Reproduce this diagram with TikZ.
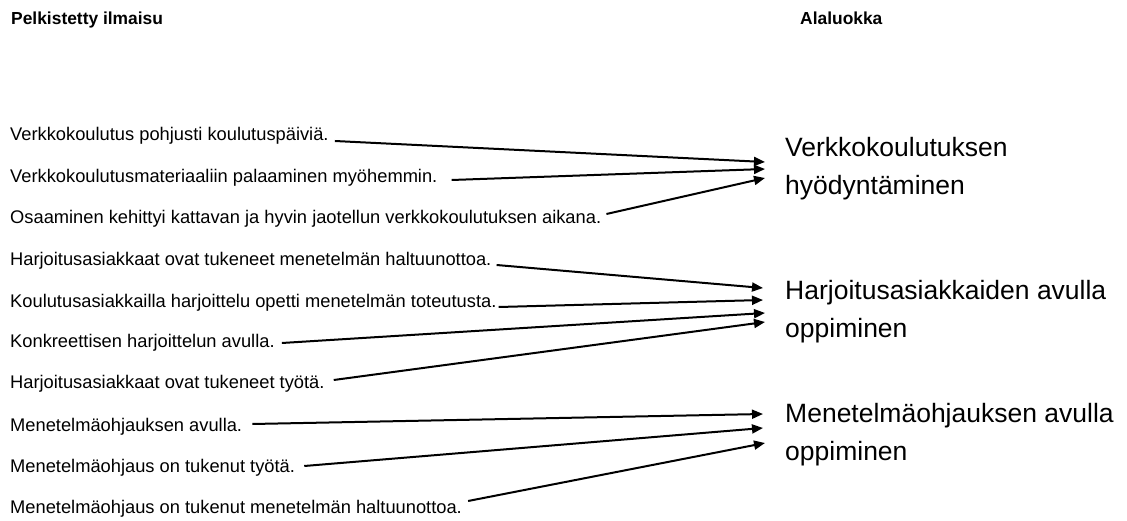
\documentclass[tikz,border=0pt]{standalone}
\usepackage{fontspec}
\setmainfont{Liberation Sans}
\usetikzlibrary{arrows.meta}

\tikzset{arrow/.style={-{Triangle[length=11pt,width=9pt]}, line width=2pt, draw=black},
  item/.style={anchor=base west, inner sep=0pt, text height=12.5pt, text depth=3.5pt, font=\fontsize{18.3}{21}\selectfont},
  head/.style={anchor=base west, inner sep=0pt, font=\fontsize{17.4}{20}\selectfont\bfseries},
  group/.style={anchor=west, inner sep=0pt, align=left, font=\fontsize{26.5}{38}\selectfont}}

\begin{document}
\begin{tikzpicture}[x=1pt, y=-1pt]
            \useasboundingbox (0,0) rectangle (1127,521);
            \node[head] (H1) at (11,25) {Pelkistetty ilmaisu};
            \node[head] (H2) at (800,25) {Alaluokka};
            \node[item] (L1) at (10,140.5) {Verkkokoulutus pohjusti koulutuspäiviä.};
            \node[item] (L2) at (10,182.5) {Verkkokoulutusmateriaaliin palaaminen myöhemmin.};
            \node[item] (L3) at (10,223.5) {Osaaminen kehittyi kattavan ja hyvin jaotellun verkkokoulutuksen aikana.};
            \node[item] (L4) at (10,265.5) {Harjoitusasiakkaat ovat tukeneet menetelmän haltuunottoa.};
            \node[item] (L5) at (10,307.5) {Koulutusasiakkailla harjoittelu opetti menetelmän toteutusta.};
            \node[item] (L6) at (10,347.5) {Konkreettisen harjoittelun avulla.};
            \node[item] (L7) at (10,388.5) {Harjoitusasiakkaat ovat tukeneet työtä.};
            \node[item] (L8) at (10,431.5) {Menetelmäohjauksen avulla.};
            \node[item] (L9) at (10,472.5) {Menetelmäohjaus on tukenut työtä.};
            \node[item] (L10) at (10,513.5) {Menetelmäohjaus on tukenut menetelmän haltuunottoa.};
            \node[group] (R1) at (785,169) {Verkkokoulutuksen\\hyödyntäminen};
            \node[group] (R2) at (785,312) {Harjoitusasiakkaiden avulla\\oppiminen};
            \node[group] (R3) at (785,435) {Menetelmäohjauksen avulla\\oppiminen};
            \draw[arrow] ([xshift=6pt,yshift=-5pt]L1.east) -- ([xshift=-20pt,yshift=7pt]R1.west);
            \draw[arrow] ([xshift=14pt,yshift=-2pt]L2.east) -- ([xshift=-20pt]R1.west);
            \draw[arrow] ([xshift=5pt,yshift=5pt]L3.east) -- ([xshift=-20pt,yshift=-9pt]R1.west);
            \draw[arrow] ([xshift=5pt,yshift=-4pt]L4.east) -- ([xshift=-22pt,yshift=24pt]R2.west);
            \draw[arrow] ([xshift=2pt,yshift=-4pt]L5.east) -- ([xshift=-22pt,yshift=12pt]R2.west);
            \draw[arrow] ([xshift=7pt]L6.east) -- ([xshift=-20pt,yshift=-1pt]R2.west);
            \draw[arrow] ([xshift=9pt,yshift=4pt]L7.east) -- ([xshift=-20pt,yshift=-10pt]R2.west);
            \draw[arrow] ([xshift=10pt,yshift=3pt]L8.east) -- ([xshift=-22pt,yshift=21pt]R3.west);
            \draw[arrow] ([xshift=9pt,yshift=2pt]L9.east) -- ([xshift=-22pt,yshift=7pt]R3.west);
            \draw[arrow] ([xshift=6pt,yshift=8pt]L10.east) -- ([xshift=-20pt,yshift=-8pt]R3.west);
        \end{tikzpicture}
\end{document}
